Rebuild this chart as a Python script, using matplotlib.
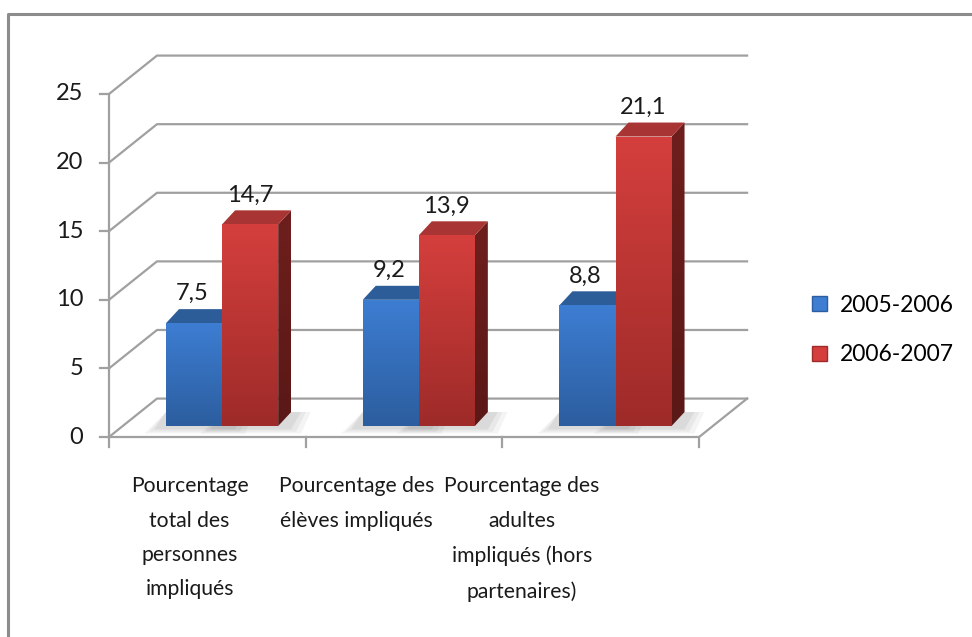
import numpy as np
import matplotlib
matplotlib.use("Agg")
import matplotlib.pyplot as plt
from matplotlib.patches import Polygon, Patch

plt.rcParams['font.family'] = ['Lato', 'DejaVu Sans']

categories = ["Pourcentage\ntotal des\npersonnes\nimpliqués",
              "Pourcentage des\nélèves impliqués",
              "Pourcentage des\nadultes\nimpliqués (hors\npartenaires)"]
series_names = ["2005-2006", "2006-2007"]
values_2005 = [7.5, 9.2, 8.8]
values_2006 = [14.7, 13.9, 21.1]
y_ticks = [0, 5, 10, 15, 20, 25]

# pseudo-3D geometry (category units / value units)
DX, DY = 0.244, 2.8          # depth of the back wall
BDX, BDY = 0.07, 0.8         # bars stand a bit behind the front edge
DDX, DDY = 0.066, 1.02       # bar depth
BAR_W = 0.285
BAR_START = 0.22

blue = dict(top="#2d5d98", side="#24497a", side2="#1d3c66", c1="#3d7dd2", c2="#2c5e9f")
red = dict(top="#a83533", side="#6e1f1d", side2="#5a1816", c1="#d43f3d", c2="#9e2b29")
grid_c = "#a0a0a0"

fig = plt.figure(figsize=(9.72, 6.37), dpi=100)
ax = fig.add_axes([0, 0, 1, 1])
ax.set_axis_off()

# map pixels -> data (front axis: x=109px at cat 0, 196.7px per cat; y=437px at 0, 13.72px per unit)
W, H = 972, 637
x0px, pxc = 109, 196.7
y0px, pxu = 437, 13.72
xlim = ((0 - x0px) / pxc, (W - x0px) / pxc)
ylim = ((y0px - H) / pxu, (y0px - 0) / pxu)

# outer frame (top and left edges)
fx = (8 - x0px) / pxc
fy = (y0px - 14) / pxu
ax.plot([fx, fx, xlim[1]], [ylim[0], fy, fy], color="#8c8c8c", lw=2.2, zorder=1,
        solid_capstyle="butt")

ncat = len(categories)
# back wall gridlines + diagonals
for t in y_ticks:
    ax.plot([0, DX, ncat + DX], [t, t + DY, t + DY], color=grid_c, lw=1.6, zorder=2)
# floor
ax.plot([0, ncat, ncat + DX], [0, 0, DY], color=grid_c, lw=1.6, zorder=2)
# front value axis and ticks
ax.plot([0, 0], [-0.75, y_ticks[-1]], color=grid_c, lw=1.6, zorder=2)
for t in y_ticks:
    ax.plot([-0.045, 0], [t, t], color=grid_c, lw=1.6, zorder=2)
    ax.text(-0.13, t, str(t), ha="right", va="center", fontsize=17, color="#1a1a1a")
for i in range(1, ncat + 1):
    ax.plot([i, i], [0, -0.75], color=grid_c, lw=1.6, zorder=2)

# category labels
label_x = [0.41, 1.26, 2.1]
for lx, lab in zip(label_x, categories):
    ax.text(lx, -2.85, lab, ha="center", va="top", fontsize=15.2, color="#1a1a1a",
            linespacing=1.9)


def gradient_face(verts, c1, c2, z):
    poly = Polygon(verts, closed=True, facecolor="none", edgecolor="none", zorder=z)
    ax.add_patch(poly)
    xs = [v[0] for v in verts]
    ys = [v[1] for v in verts]
    cmap = matplotlib.colors.LinearSegmentedColormap.from_list("g", [c2, c1])
    grad = np.linspace(0, 1, 64).reshape(-1, 1)
    im = ax.imshow(grad, cmap=cmap, origin="lower", aspect="auto",
                   extent=[min(xs), max(xs), min(ys), max(ys)], zorder=z,
                   interpolation="bicubic")
    im.set_clip_path(poly)


def draw_bar(xl, h, col, z):
    xr = xl + BAR_W
    b = BDY
    xl += BDX
    xr += BDX
    # soft shadow on the floor
    for k, a in [(0.05, 0.07), (0.025, 0.09), (0.0, 0.11)]:
        sh = [(xl - 0.06 - k, b - 0.25 - k * 6), (xr + DDX + k, b - 0.25 - k * 6),
              (xr + DDX + 0.05 + k, b + DDY), (xl, b + DDY)]
        ax.add_patch(Polygon(sh, closed=True, facecolor="#707070", alpha=a,
                             edgecolor="none", zorder=z - 1))
    side = [(xr, b), (xr + DDX, b + DDY), (xr + DDX, b + h + DDY), (xr, b + h)]
    gradient_face(side, col["side"], col["side2"], z)
    top = [(xl, b + h), (xr, b + h), (xr + DDX, b + h + DDY), (xl + DDX, b + h + DDY)]
    ax.add_patch(Polygon(top, closed=True, facecolor=col["top"], edgecolor="none", zorder=z))
    front = [(xl, b), (xr, b), (xr, b + h), (xl, b + h)]
    gradient_face(front, col["c1"], col["c2"], z + 0.1)
    return (xl + xr) / 2, b + h + DDY


for i in range(ncat):
    xb = i + BAR_START
    cx, ty = draw_bar(xb, values_2005[i], blue, 5 + i)
    ax.text(cx - 0.01, ty + 0.65, f"{values_2005[i]:.1f}".replace(".", ","),
            ha="center", va="baseline", fontsize=17, color="#1a1a1a", zorder=20)
    cx, ty = draw_bar(xb + BAR_W, values_2006[i], red, 5.5 + i)
    ax.text(cx, ty + 0.65, f"{values_2006[i]:.1f}".replace(".", ","),
            ha="center", va="baseline", fontsize=17, color="#1a1a1a", zorder=20)

handles = [Patch(facecolor=blue["c1"], edgecolor=blue["c2"]),
           Patch(facecolor=red["c1"], edgecolor=red["c2"])]
ax.legend(handles, series_names, loc="center left", bbox_to_anchor=(791 / W, 1 - 330 / H),
          frameon=False, fontsize=16.5, handlelength=0.65, handleheight=0.65,
          handletextpad=0.6, labelspacing=1.25)

ax.set_xlim(*xlim)
ax.set_ylim(*ylim)
fig.savefig("out.png", dpi=100)
